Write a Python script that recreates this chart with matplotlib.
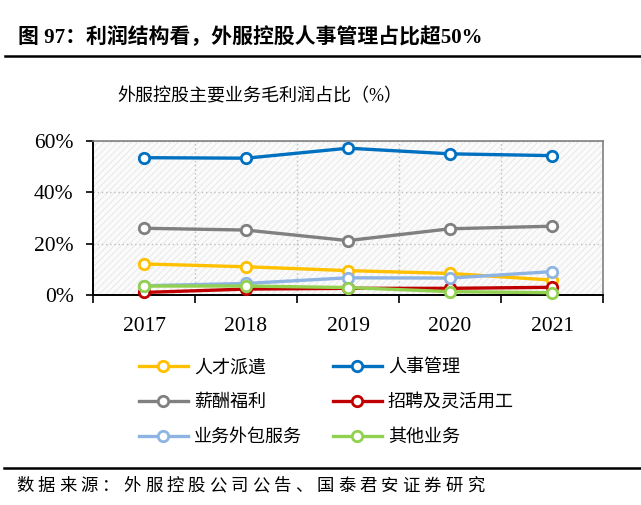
import matplotlib
matplotlib.use("Agg")
import matplotlib.pyplot as plt
from matplotlib.patches import Rectangle
from matplotlib.lines import Line2D

plt.rcParams['font.family'] = ['Liberation Serif', 'Noto Sans CJK SC', 'DejaVu Sans']
plt.rcParams['hatch.linewidth'] = 0.7

# 数据
years = ['2017', '2018', '2019', '2020', '2021']
rencai = [12.1, 11.0, 9.5, 8.4, 5.8]        # 人才派遣
renshi = [53.5, 53.3, 57.2, 55.0, 54.3]     # 人事管理
xinchou = [26.0, 25.3, 21.2, 25.8, 26.8]    # 薪酬福利
zhaopin = [1.0, 2.3, 2.6, 2.6, 3.0]         # 招聘及灵活用工
waibao = [3.6, 4.5, 6.7, 6.6, 9.1]          # 业务外包服务
qita = [3.5, 3.5, 2.9, 1.3, 0.9]            # 其他业务

series = [
    ('人才派遣', rencai, '#FFC000'),
    ('人事管理', renshi, '#0070C0'),
    ('薪酬福利', xinchou, '#808080'),
    ('招聘及灵活用工', zhaopin, '#C00000'),
    ('业务外包服务', waibao, '#8EB4E3'),
    ('其他业务', qita, '#92D050'),
]

W, H = 641, 505
fig = plt.figure(figsize=(W / 100, H / 100), dpi=100)
ax = fig.add_axes([93 / W, 1 - 295 / H, 510 / W, 154 / H])

ax.set_facecolor('white')
ax.add_patch(Rectangle((0, 0), 1, 1, transform=ax.transAxes, facecolor='#FBFBFB',
                       edgecolor='#E8E8E8', hatch='/////', linewidth=0, zorder=0))

x = list(range(len(years)))
handles = {}
for name, vals, col in series:
    ln, = ax.plot(x, vals, color=col, lw=2.4, marker='o', ms=7.5, mfc='white',
                  mec=col, mew=2.0, zorder=3, label=name, clip_on=False)
    handles[name] = ln

ax.set_xlim(-0.5, 4.5)
ax.set_ylim(0, 60)
ax.set_yticks([0, 20, 40, 60])
ax.set_yticklabels(['0%', '20%', '40%', '60%'], fontsize=15.5)
ax.set_xticks([i - 0.5 for i in range(6)])
ax.set_xticklabels([])
ax.set_xticks(x, minor=True)
ax.set_xticklabels(years, minor=True, fontsize=15.5)
ax.tick_params(axis='x', which='minor', length=0, pad=16)
ax.tick_params(axis='x', which='major', length=6, width=1.2, direction='out')
ax.tick_params(axis='y', length=5, width=1.2, direction='out', pad=9)

for s in ['left', 'bottom']:
    ax.spines[s].set_color('black')
    ax.spines[s].set_linewidth(1.4)
for s in ['top', 'right']:
    ax.spines[s].set_color('#808080')
    ax.spines[s].set_linewidth(1.2)

ax.grid(True, which='major', color='#BFBFBF', linestyle=(0, (1, 2)), linewidth=1.0)
ax.set_axisbelow(True)

# 标题
fig.text(18 / W, 1 - 37 / H, '图 97：利润结构看，外服控股人事管理占比超50%', fontsize=15,
         fontweight='bold', ha='left', va='center')
fig.add_artist(Line2D([5 / W, 1], [1 - 56 / H, 1 - 56 / H], color='black', lw=1.8))
fig.text(260 / W, 1 - 97 / H, '外服控股主要业务毛利润占比（%）', fontsize=13,
         ha='center', va='center')

# 图例
order = ['人才派遣', '薪酬福利', '业务外包服务', '人事管理', '招聘及灵活用工', '其他业务']
fig.legend([handles[n] for n in order], order, ncol=2, loc='upper left',
           bbox_to_anchor=(139 / W, 1 - 359 / H), frameon=False, fontsize=13,
           handlelength=2.7, handletextpad=0.35, columnspacing=1.7, labelspacing=1.0,
           borderpad=0, borderaxespad=0)

# 来源
fig.add_artist(Line2D([4 / W, 1], [1 - 468 / H, 1 - 468 / H], color='black', lw=1.8))
src = '数据来源：外服控股公司公告、国泰君安证券研究'
for i, ch in enumerate(src):
    fig.text((25 + i * 21.45) / W, 1 - 487 / H, ch, fontsize=12.5, ha='center', va='center')

fig.savefig('out.png', dpi=100)
